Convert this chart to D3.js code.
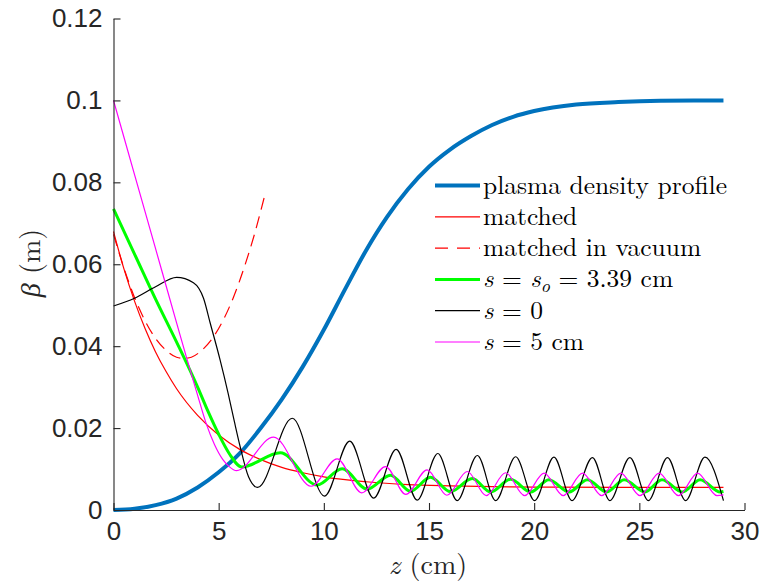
<!DOCTYPE html>
<html>
<head>
<meta charset="utf-8">
<script src="https://cdn.jsdelivr.net/npm/d3@7"></script>
<style>
  html, body { margin: 0; padding: 0; background: #ffffff; }
  svg { display: block; }
</style>
</head>
<body>
<svg id="chart" width="761" height="581"></svg>
<script>
// ---- data ----
const xTicks = [0, 5, 10, 15, 20, 25, 30];
const yTicks = [0, 0.02, 0.04, 0.06, 0.08, 0.1, 0.12];
const yTickLabels = ["0", "0.02", "0.04", "0.06", "0.08", "0.1", "0.12"];

const blueZ = [0,1,2,3,4,5,6,7,8,9,10,11,12,13,14,15,16,17,18,19,20,22,24,26,29];
const blueB = [0,0.0003,0.0012,0.0028,0.0055,0.0092,0.0138,0.0200,0.0270,0.0350,0.0440,0.0538,0.0633,0.0715,0.0783,0.0838,0.0880,0.0913,0.0940,0.0960,0.0974,0.0990,0.0996,0.0999,0.1000];

const redZ = [0,0.5,1,1.5,2,2.5,3,4,5,6,7,8,9,10,12,14,16,18,20,24,29];
const redB = [0.068,0.0588,0.0510,0.0443,0.0386,0.0338,0.0296,0.0231,0.0183,0.0148,0.0123,0.0104,0.0091,0.0081,0.0069,0.0062,0.0059,0.0057,0.0056,0.0055,0.0055];

const vacZ = [0,0.5,1,1.5,2,2.5,3,3.35,3.7,4.2,4.7,5.2,5.7,6.2,6.7,7.2];
const vacB = [0.0673,0.0590,0.0519,0.0462,0.0419,0.0390,0.0373,0.0370,0.0373,0.0390,0.0419,0.0462,0.0519,0.0590,0.0673,0.0770];

const greenZ = [0,1,2,3,4,4.5,5,5.5,6.1,7.93,9.68,10.87,12.06,13.17,14.12,15.07,16.02,17.06,17.93,18.88,19.83,20.7,21.66,22.53,23.45,24.28,25.27,26.08,27.05,27.89,28.85,29];
const greenB = [0.0735,0.0625,0.0515,0.0410,0.0300,0.0240,0.0185,0.0138,0.0105,0.0140,0.0061,0.0101,0.0051,0.0085,0.0046,0.0080,0.0045,0.0077,0.0044,0.0075,0.0044,0.0074,0.0044,0.0074,0.0044,0.0074,0.0044,0.0074,0.0044,0.0074,0.0044,0.0045];

const blackZ = [0,1,2,3,3.8,4.28,4.6,5.07,5.45,5.75,6.02,6.42,6.85,8.5,10.03,11.23,12.37,13.44,14.44,15.42,16.34,17.3,18.17,19.12,20.02,20.94,21.8,22.77,23.6,24.55,25.43,26.34,27.2,28.12,29];
const blackB = [0.0498,0.0517,0.0545,0.0568,0.0555,0.0517,0.0456,0.0366,0.0285,0.0215,0.0155,0.0081,0.0055,0.0224,0.0034,0.0168,0.0029,0.0148,0.0024,0.0138,0.0023,0.0133,0.0023,0.0130,0.0023,0.0129,0.0023,0.0128,0.0023,0.0128,0.0023,0.0128,0.0023,0.0129,0.0023];

const magZ = [0,1,2,3,3.5,4,4.4,4.8,5.2,5.5,5.85,7.61,9.4,10.63,11.8,12.93,13.9,14.91,15.85,16.82,17.72,18.64,19.55,20.47,21.38,22.3,23.21,24.12,25.03,25.94,26.86,27.77,28.69,29];
const magB = [0.1,0.0819,0.0638,0.0457,0.0367,0.0280,0.0212,0.0160,0.0123,0.0106,0.0096,0.0178,0.0058,0.0125,0.0042,0.0106,0.0038,0.0098,0.0036,0.0094,0.0035,0.0091,0.0035,0.0090,0.0035,0.0090,0.0035,0.0090,0.0035,0.0090,0.0035,0.0090,0.0035,0.0037];

const series = [
  {name: "plasma", z: blueZ, b: blueB, color: "#0072BD", width: 4, dash: null},
  {name: "matched", z: redZ, b: redB, color: "#FF0000", width: 1.2, dash: null},
  {name: "vacuum", z: vacZ, b: vacB, color: "#FF0000", width: 1.2, dash: "12,7"},
  {name: "s0", z: greenZ, b: greenB, color: "#00FF00", width: 3, dash: null},
  {name: "szero", z: blackZ, b: blackB, color: "#000000", width: 1.2, dash: null},
  {name: "s5", z: magZ, b: magB, color: "#FF00FF", width: 1.2, dash: null}
];

// ---- drawing ----
const svg = d3.select("#chart");
const axisColor = "#262626";
const x = d3.scaleLinear().domain([0, 30]).range([113.5, 744.5]);
const y = d3.scaleLinear().domain([0, 0.12]).range([510, 18.5]);

// curves
const line = d3.line().x(d => x(d[0])).y(d => y(d[1])).curve(d3.curveMonotoneX);
series.forEach(s => {
  const pts = s.z.map((zv, i) => [zv, s.b[i]]);
  svg.append("path")
    .datum(pts)
    .attr("d", line)
    .attr("fill", "none")
    .attr("stroke", s.color)
    .attr("stroke-width", s.width)
    .attr("stroke-dasharray", s.dash)
    .attr("stroke-linejoin", "round");
});

// axes
const xAxis = d3.axisBottom(x).tickValues(xTicks).tickSizeInner(-7).tickSizeOuter(0).tickPadding(10).tickFormat(d3.format("d"));
const gx = svg.append("g").attr("transform", "translate(0,510)").call(xAxis);
const yAxis = d3.axisLeft(y).tickValues(yTicks).tickSizeInner(-7).tickSizeOuter(0).tickPadding(11)
  .tickFormat((d, i) => yTickLabels[i]);
const gy = svg.append("g").attr("transform", "translate(113.5,0)").call(yAxis);

[gx, gy].forEach(g => {
  g.select(".domain").attr("stroke", axisColor).attr("stroke-width", 1.1);
  g.selectAll(".tick line").attr("stroke", axisColor).attr("stroke-width", 1.1);
  g.selectAll(".tick text")
    .attr("fill", axisColor)
    .style("font-family", "'Liberation Sans', Arial, sans-serif")
    .style("font-size", "26px");
});
gx.selectAll(".tick text").attr("dy", "0.71em").attr("y", 12);

// axis titles
const serif = "'Latin Modern Roman', 'CMU Serif', 'Liberation Serif', 'Times New Roman', serif";
const xt = svg.append("text")
  .attr("x", 428).attr("y", 574)
  .attr("text-anchor", "middle")
  .attr("fill", axisColor)
  .style("font-family", serif)
  .style("font-size", "28px");
xt.append("tspan").style("font-style", "italic").text("z");
xt.append("tspan").text(" (cm)");

const yt = svg.append("text")
  .attr("transform", "translate(40,263) rotate(-90)")
  .attr("text-anchor", "middle")
  .attr("fill", axisColor)
  .style("font-family", serif)
  .style("font-size", "28px");
yt.append("tspan").style("font-style", "italic").text("β");
yt.append("tspan").text(" (m)");

// legend
const legendX0 = 435, legendX1 = 480, legendTextX = 483, legendY0 = 185.5, legendDy = 31.3;
const legendLabels = [
  [{t: "plasma density profile"}],
  [{t: "matched"}],
  [{t: "matched in vacuum"}],
  [{t: "s", i: true}, {t: " = "}, {t: "s", i: true}, {t: "o", i: true, sub: true}, {t: " = 3.39 cm", after: true}],
  [{t: "s", i: true}, {t: " = 0"}],
  [{t: "s", i: true}, {t: " = 5 cm"}]
];
const legend = svg.append("g");
series.forEach((s, k) => {
  const ly = legendY0 + k * legendDy;
  legend.append("line")
    .attr("x1", legendX0).attr("x2", legendX1)
    .attr("y1", ly).attr("y2", ly)
    .attr("stroke", s.color)
    .attr("stroke-width", s.width)
    .attr("stroke-dasharray", s.dash ? "13,9" : null);
  const t = legend.append("text")
    .attr("x", legendTextX).attr("y", ly + 8)
    .attr("fill", "#000")
    .style("font-family", serif)
    .style("font-size", "25.5px");
  legendLabels[k].forEach(p => {
    const ts = t.append("tspan").text(p.t);
    if (p.i) ts.style("font-style", "italic");
    if (p.sub) ts.attr("dy", 5).style("font-size", "18px");
    if (p.after) ts.attr("dy", -5);
  });
});
</script>
</body>
</html>
